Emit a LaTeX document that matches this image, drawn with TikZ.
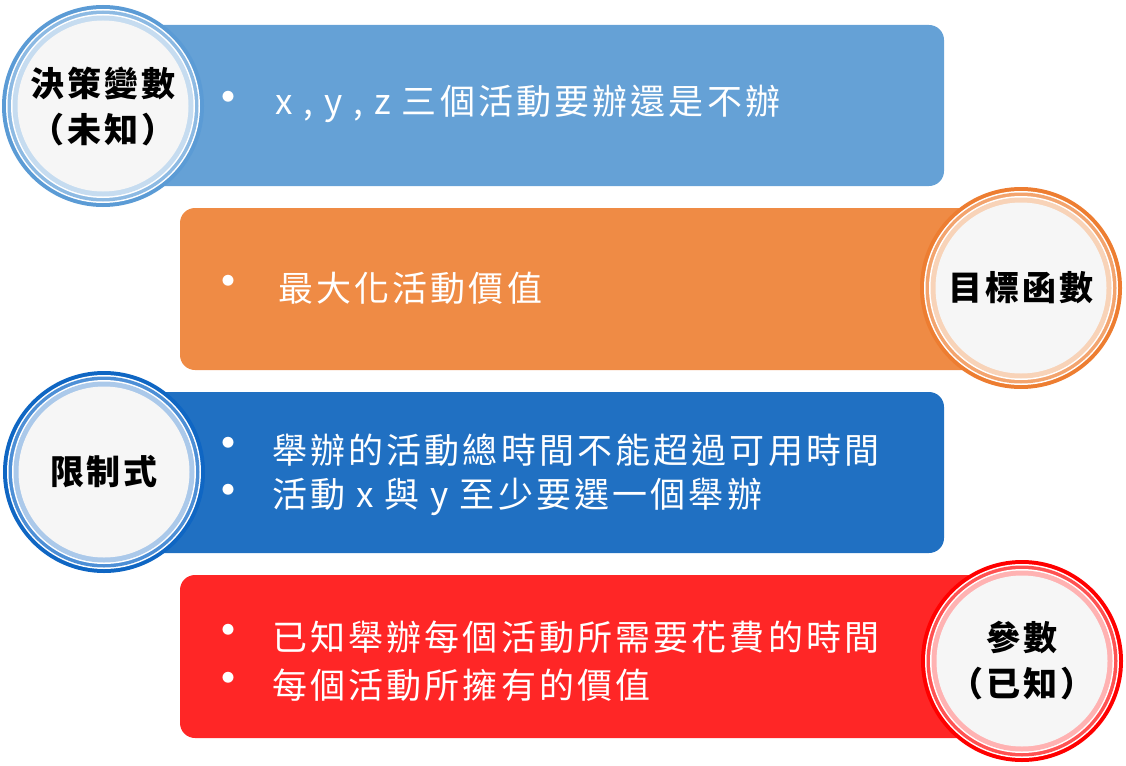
\documentclass[tikz,border=0pt]{standalone}
\usepackage{fontspec}
\setmainfont{Noto Sans CJK TC}
\usetikzlibrary{positioning}
\definecolor{decisionBar}{HTML}{65A1D6}
\definecolor{decisionOut}{HTML}{5B9BD5}
\definecolor{decisionMid}{HTML}{8DBAE3}
\definecolor{decisionPale}{HTML}{C6DCF0}
\definecolor{objetivoBar}{HTML}{EF8B45}
\definecolor{objetivoOut}{HTML}{ED7D31}
\definecolor{objetivoMid}{HTML}{F3A46E}
\definecolor{objetivoPale}{HTML}{F8D3B8}
\definecolor{limiteBar}{HTML}{2070C2}
\definecolor{limiteOut}{HTML}{0F66C3}
\definecolor{limiteMid}{HTML}{4D8FD6}
\definecolor{limitePale}{HTML}{ABC9EA}
\definecolor{paramBar}{HTML}{FF2626}
\definecolor{paramOut}{HTML}{FF0000}
\definecolor{paramMid}{HTML}{FF5252}
\definecolor{paramPale}{HTML}{FFB2B2}
\definecolor{fondo}{HTML}{F6F6F6}
% circle with three rings, text on top
\newcommand{\ringnode}[4]{%
  \fill[#3Out] (#2) circle (101pt);
  \fill[white] (#2) circle (97pt);
  \fill[#3Mid] (#2) circle (95.5pt);
  \fill[white] (#2) circle (92pt);
  \fill[#3Pale] (#2) circle (90.5pt);
  \fill[fondo] (#2) circle (85.5pt);
  \node[rotulo] (#1) at (#2) {#4};
}

\begin{document}
\begin{tikzpicture}[x=1pt, y=-1pt,
    barra/.style={rounded corners=15pt},
    punto/.style={text=white, inner sep=0pt, font=\fontsize{52}{52}\selectfont},
    linea/.style={text=white, inner sep=0pt, anchor=west,
      font=\fontsize{35}{35}\selectfont\addfontfeature{LetterSpace=9}},
    rotulo/.style={align=center, inner sep=0pt,
      font=\fontsize{34}{46}\selectfont\bfseries\addfontfeature{LetterSpace=8}}]
  \useasboundingbox (0,0) rectangle (1126,765);

  % bars
  \fill[decisionBar, barra] (140,25) rectangle (944,186);
  \fill[objetivoBar, barra] (180,208) rectangle (1040,370);
  \fill[limiteBar, barra] (140,392) rectangle (944,553);
  \fill[paramBar, barra] (180,575) rectangle (1040,738);

  % circles
  \ringnode{dv}{103,106}{decision}{決策變數\\（未知）}
  \ringnode{of}{1021,288}{objetivo}{目標函數}
  \ringnode{rs}{104,472}{limite}{限制式}
  \ringnode{pa}{1022,661}{param}{參數\\（已知）}

  % bullet lines
  \node[punto] (p1) at (228,104) {•};
  \node[linea, right=47pt of p1.center] (t1) {x , y , z 三個活動要辦還是不辦};
  \node[punto] (p2) at (228,288) {•};
  \node[linea, right=50pt of p2.center] (t2) {最大化活動價值};
  \node[punto] (p3) at (228,450) {•};
  \node[linea, right=44pt of p3.center] (t3) {舉辦的活動總時間不能超過可用時間};
  \node[punto] (p4) at (228,497) {•};
  \node[linea, right=44pt of p4.center] (t4) {活動 x 與 y 至少要選一個舉辦};
  \node[punto] (p5) at (228,637) {•};
  \node[linea, right=44pt of p5.center] (t5) {已知舉辦每個活動所需要花費的時間};
  \node[punto] (p6) at (228,685) {•};
  \node[linea, right=44pt of p6.center] (t6) {每個活動所擁有的價值};
\end{tikzpicture}
\end{document}
